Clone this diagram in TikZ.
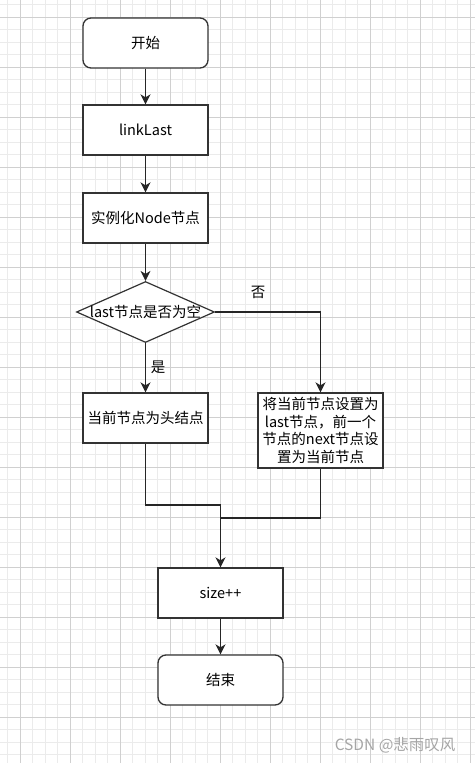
\documentclass[tikz,border=0pt]{standalone}
\usepackage{fontspec}
\setmainfont{Noto Sans CJK SC}
\usetikzlibrary{shapes.geometric,arrows.meta}
\definecolor{minorg}{HTML}{EBEBEB}
\definecolor{majorg}{HTML}{D0D0D0}
\definecolor{edge}{HTML}{333333}
\definecolor{wm}{HTML}{A6A6A6}
\tikzset{
  minorgrid/.style={draw=minorg,line width=0.9pt},
  majorgrid/.style={draw=majorg,line width=0.9pt},
  txt/.style={font=\fontsize{14.5}{17.8}\selectfont,text=black},
  procbox/.style={txt,draw=edge,line width=1.3pt,fill=white,minimum width=125pt,minimum height=50pt,inner sep=0pt,align=center},
  termbox/.style={procbox,rounded corners=8pt},
  decbox/.style={draw=edge,line width=1.2pt,fill=white,diamond,minimum width=138pt,minimum height=61pt,inner sep=0pt},
  flow/.style={draw=black!85,line width=1.4pt,-{Stealth[length=10pt,width=10pt,inset=3pt]}},
  plain/.style={draw=black!85,line width=1.4pt},
}
\begin{document}
\begin{tikzpicture}[x=1pt,y=-1pt]
\useasboundingbox (0,0) rectangle (475,763);
\fill[white] (0,0) rectangle (475,763);
\foreach \i in {0,...,37} {\draw[minorgrid] ({7.5+12.5*\i},0) -- ({7.5+12.5*\i},763);}
\foreach \i in {0,...,60} {\draw[minorgrid] (0,{4.5+12.5*\i}) -- (475,{4.5+12.5*\i});}
\foreach \i in {0,...,9} {\draw[majorgrid] ({20+50*\i},0) -- ({20+50*\i},763);}
\foreach \i in {0,...,14} {\draw[majorgrid] (0,{17+50*\i}) -- (475,{17+50*\i});}

\node[termbox] (start) at (145.5,43) {开始};
\node[procbox] (link) at (145.5,130) {linkLast};
\node[procbox] (inst) at (145.5,218) {实例化Node节点};
\node[decbox,label={[txt]center:last节点是否为空}] (dec) at (145.5,312) {};
\node[procbox] (head) at (145.5,418) {当前节点为头结点};
\node[procbox,minimum height=75pt] (setl) at (320.5,430.5) {将当前节点设置为\\last节点，前一个\\节点的next节点设\\置为当前节点};
\node[procbox] (size) at (220.5,593) {size++};
\node[termbox] (end) at (220.5,680) {结束};

\node[txt] (yes) at (158,367) {是};
\node[txt] (no) at (258,292) {否};

\coordinate (j1) at (220.5,505);
\coordinate (j2) at (220.5,518);

\draw[flow] (start) -- (link);
\draw[flow] (link) -- (inst);
\draw[flow] (inst) -- (dec);
\draw[flow] (dec) -- (head);
\draw[flow] (dec.east) -| (setl.north);
\draw[plain] (setl.south) |- (j2);
\draw[flow] (head.south) |- (j1) -- (size.north);
\draw[flow] (size) -- (end);

\node[font=\fontsize{15.5}{18}\selectfont,text=wm,anchor=east] (wmark) at (459,745) {CSDN @悲雨叹风};
\end{tikzpicture}
\end{document}
